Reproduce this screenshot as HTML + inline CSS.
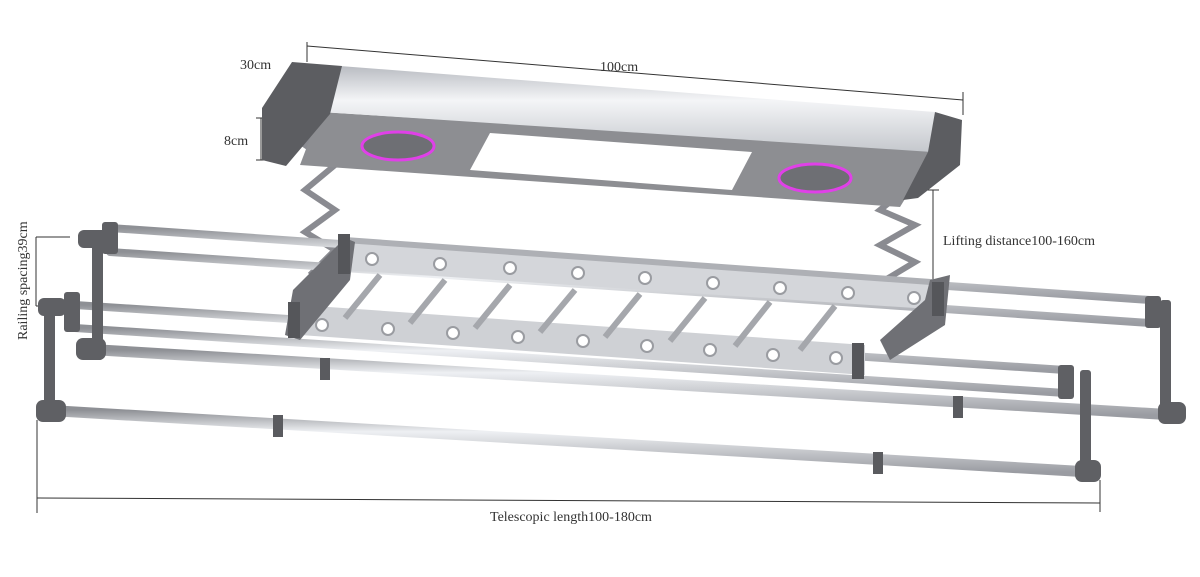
<!DOCTYPE html>
<html><head><meta charset="utf-8"><style>
html,body{margin:0;padding:0;background:#fff;width:1200px;height:577px;overflow:hidden}
svg{display:block}
text{font-family:"Liberation Serif",serif;fill:#333;font-size:14px}
</style></head><body>
<svg width="1200" height="577" viewBox="0 0 1200 577" xmlns="http://www.w3.org/2000/svg">
<defs>
<linearGradient id="rod" x1="0" y1="0" x2="0" y2="1"><stop offset="0" stop-color="#8e9095"/><stop offset="0.35" stop-color="#eef0f3"/><stop offset="1" stop-color="#9a9ca2"/></linearGradient>
<linearGradient id="silver" x1="0" y1="0" x2="0" y2="1"><stop offset="0" stop-color="#b9bcc2"/><stop offset="0.4" stop-color="#f4f5f7"/><stop offset="1" stop-color="#c5c8cd"/></linearGradient>
</defs>
<g stroke="#333" stroke-width="1" fill="none">
<line x1="307" y1="46" x2="963" y2="100"/><line x1="307" y1="42" x2="307" y2="62"/><line x1="963" y1="92" x2="963" y2="115"/>
<line x1="256" y1="118" x2="266" y2="118"/><line x1="256" y1="160" x2="266" y2="160"/><line x1="261" y1="118" x2="261" y2="160"/>
<line x1="933" y1="190" x2="933" y2="280"/><line x1="927" y1="190" x2="939" y2="190"/>
<line x1="36" y1="237" x2="36" y2="306"/><line x1="36" y1="237" x2="70" y2="237"/><line x1="36" y1="306" x2="45" y2="306"/>
<line x1="37" y1="420" x2="37" y2="513"/><line x1="37" y1="498" x2="1100" y2="503"/><line x1="1100" y1="480" x2="1100" y2="512"/>
</g>
<text x="240" y="69">30cm</text>
<text x="600" y="71">100cm</text>
<text x="224" y="145">8cm</text>
<text x="943" y="245">Lifting distance100-160cm</text>
<text x="490" y="521">Telescopic length100-180cm</text>
<text transform="translate(27,340) rotate(-90)">Railing spacing39cm</text>

<!-- scissors (behind) -->
<g fill="none" stroke="#8a8b91" stroke-width="6">
<polyline points="330,118 305,145 335,165 305,190 335,210 305,232 335,250 310,275"/>
<polyline points="905,190 880,210 915,225 880,245 915,262 885,280"/>
</g>
<!-- box -->
<polygon points="320,112 935,150 900,207 300,165" fill="#8d8e92"/>
<polygon points="340,66 935,112 932,152 322,112" fill="url(#silver)"/>
<polygon points="292,62 342,66 330,114 286,166 262,160 262,108" fill="#5c5d61"/>
<polygon points="935,112 962,120 960,165 918,198 903,200 928,152" fill="#5c5d61"/>
<polygon points="490,133 752,152 732,190 470,170" fill="#fff"/>
<ellipse cx="398" cy="146" rx="36" ry="14" fill="#6e6f74" stroke="#e040e8" stroke-width="3"/>
<ellipse cx="815" cy="178" rx="36" ry="14" fill="#6e6f74" stroke="#e040e8" stroke-width="3"/>
<!-- rails back -->
<g stroke-linecap="round">
<line x1="110" y1="228" x2="1150" y2="300" stroke="url(#rod)" stroke-width="8"/>
<line x1="110" y1="252" x2="1150" y2="323" stroke="url(#rod)" stroke-width="8"/>
<line x1="75" y1="305" x2="1065" y2="370" stroke="url(#rod)" stroke-width="8"/>
<line x1="75" y1="328" x2="1065" y2="393" stroke="url(#rod)" stroke-width="8"/>
</g>
<polygon points="345,240 945,283 945,310 345,270" fill="#d4d6da"/>
<line x1="345" y1="240" x2="945" y2="283" stroke="#aeb0b5" stroke-width="6"/>
<polygon points="300,305 865,345 865,375 300,335" fill="#cfd1d5"/>
<g stroke="#a5a7ac" stroke-width="6">
<line x1="380" y1="275" x2="345" y2="318"/><line x1="445" y1="280" x2="410" y2="323"/><line x1="510" y1="285" x2="475" y2="328"/><line x1="575" y1="290" x2="540" y2="332"/><line x1="640" y1="294" x2="605" y2="337"/><line x1="705" y1="298" x2="670" y2="341"/><line x1="770" y1="302" x2="735" y2="346"/><line x1="835" y1="306" x2="800" y2="350"/>
</g>
<g fill="#fff" stroke="#9a9ca1" stroke-width="2">
<circle cx="372" cy="259" r="6"/><circle cx="440" cy="264" r="6"/><circle cx="510" cy="268" r="6"/><circle cx="578" cy="273" r="6"/><circle cx="645" cy="278" r="6"/><circle cx="713" cy="283" r="6"/><circle cx="780" cy="288" r="6"/><circle cx="848" cy="293" r="6"/><circle cx="914" cy="298" r="6"/>
<circle cx="322" cy="325" r="6"/><circle cx="388" cy="329" r="6"/><circle cx="453" cy="333" r="6"/><circle cx="518" cy="337" r="6"/><circle cx="583" cy="341" r="6"/><circle cx="647" cy="346" r="6"/><circle cx="710" cy="350" r="6"/><circle cx="773" cy="355" r="6"/><circle cx="836" cy="358" r="6"/>
</g>
<polygon points="293,290 345,238 355,242 350,280 300,340 285,335" fill="#6f7075"/>
<polygon points="930,280 950,275 945,325 890,360 880,340 925,300" fill="#6f7075"/>
<rect x="338" y="234" width="12" height="40" fill="#55565a"/><rect x="932" y="282" width="12" height="34" fill="#55565a"/>
<rect x="288" y="302" width="12" height="36" fill="#55565a"/><rect x="852" y="343" width="12" height="36" fill="#55565a"/>
<g stroke-linecap="round">
<line x1="100" y1="350" x2="1175" y2="415" stroke="url(#rod)" stroke-width="11"/>
<line x1="42" y1="410" x2="1090" y2="472" stroke="url(#rod)" stroke-width="11"/>
</g>
<g fill="#5a5b5f">
<rect x="320" y="358" width="10" height="22"/><rect x="953" y="396" width="10" height="22"/>
<rect x="273" y="415" width="10" height="22"/><rect x="873" y="452" width="10" height="22"/>
</g>
<g fill="#5f6064">
<rect x="92" y="230" width="11" height="130" rx="3"/><rect x="78" y="230" width="30" height="18" rx="6"/><rect x="76" y="338" width="30" height="22" rx="7"/>
<rect x="102" y="222" width="16" height="32" rx="3"/>
<rect x="44" y="298" width="11" height="118" rx="3"/><rect x="38" y="298" width="28" height="18" rx="6"/><rect x="36" y="400" width="30" height="22" rx="7"/>
<rect x="64" y="292" width="16" height="40" rx="3"/>
<rect x="1160" y="300" width="11" height="120" rx="3"/><rect x="1145" y="296" width="16" height="32" rx="3"/><rect x="1158" y="402" width="28" height="22" rx="7"/>
<rect x="1080" y="370" width="11" height="106" rx="3"/><rect x="1058" y="365" width="16" height="34" rx="3"/><rect x="1075" y="460" width="26" height="22" rx="7"/>
</g>
</svg>
</body></html>
